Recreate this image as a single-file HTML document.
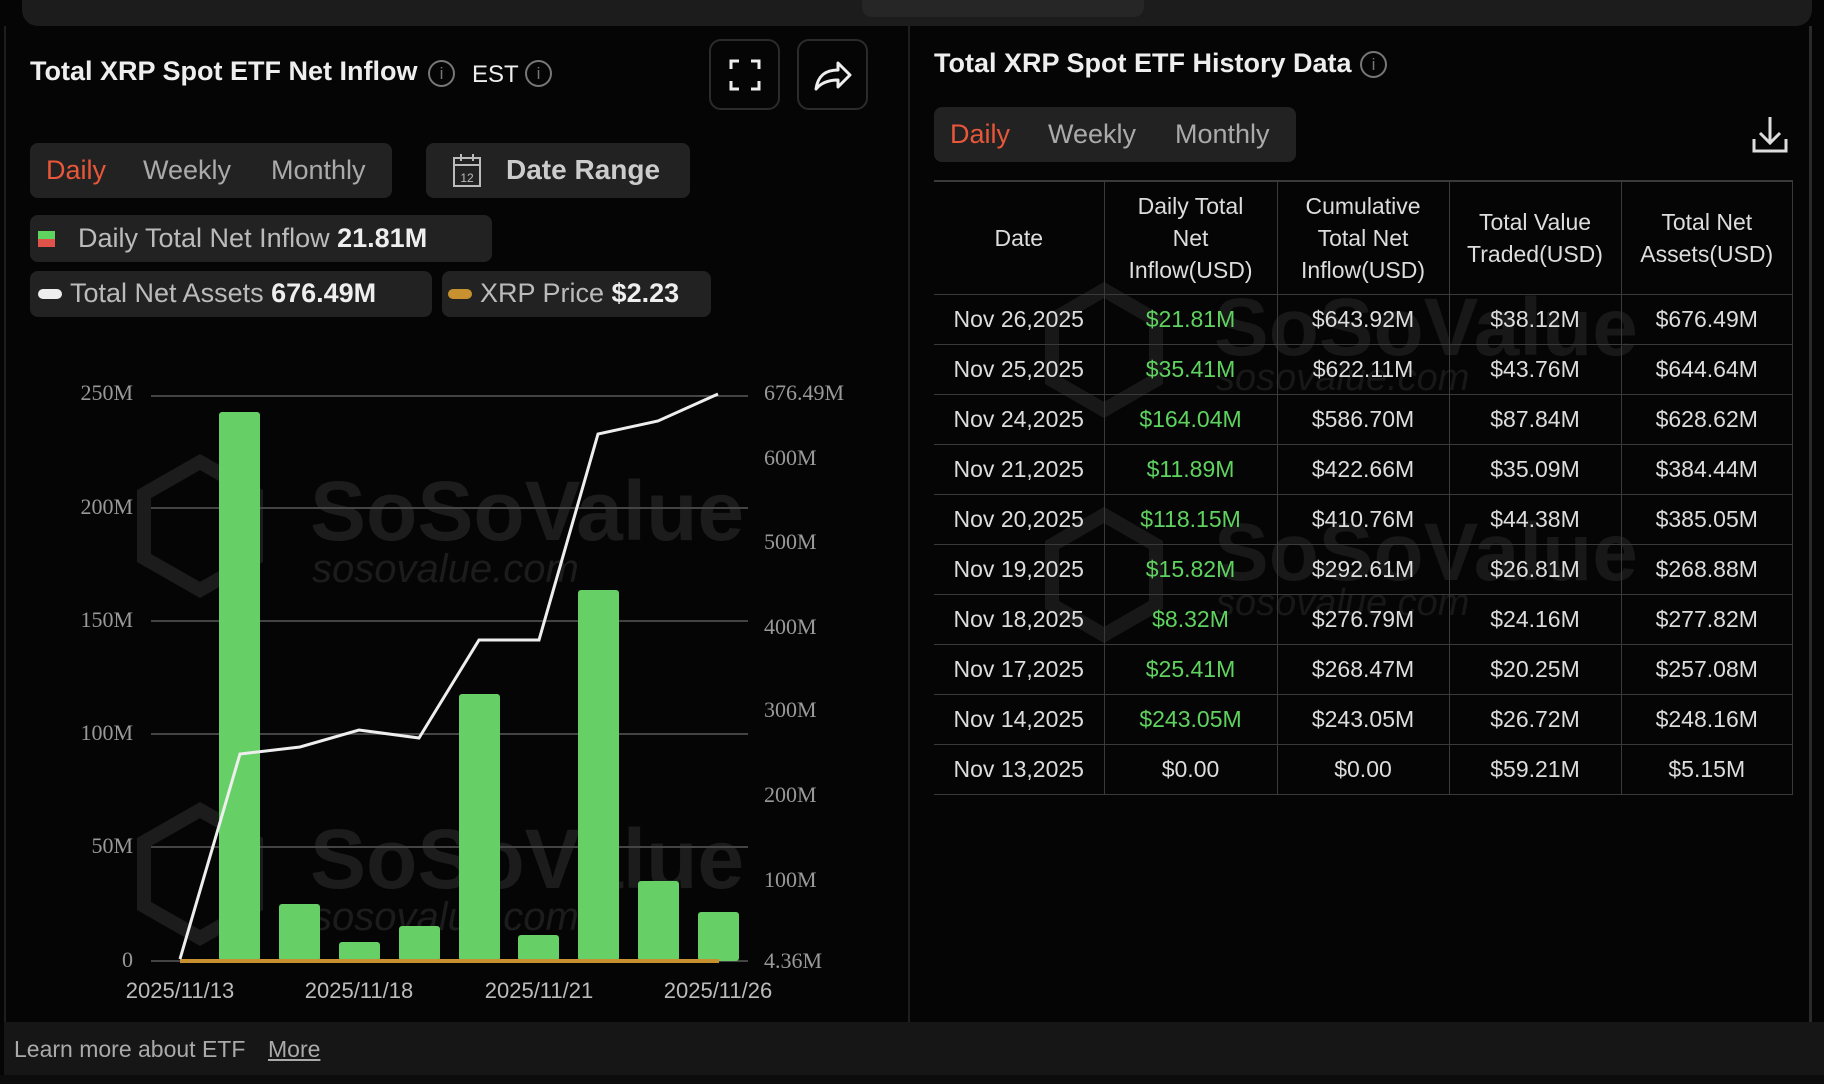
<!DOCTYPE html>
<html><head><meta charset="utf-8"><style>
*{margin:0;padding:0;box-sizing:border-box}
body{width:1824px;height:1084px;background:#050505;font-family:"Liberation Sans",sans-serif;color:#ddd;position:relative;overflow:hidden}
.a{position:absolute}
.box{position:absolute;background:#222;border-radius:8px}
.t{white-space:nowrap}
table{position:absolute;left:934px;top:180px;width:859px;border-collapse:collapse;font-size:23px;color:#ddd}
td,th{border:1px solid #3a3a3a;text-align:center;font-weight:normal;height:50px;padding:0}
th{height:113px;line-height:32px;color:#ddd}
tr td:first-child,tr th:first-child{border-left:none}
.g{color:#5fd35f}
</style></head><body>
<div class="a" style="left:22px;top:0;width:1790px;height:26px;background:#1c1c1c;border-radius:0 0 16px 16px"></div>
<div class="a" style="left:862px;top:0;width:282px;height:17px;background:#262626;border-radius:0 0 10px 10px"></div>
<div class="a" style="left:4px;top:26px;width:2px;height:996px;background:#1e1e1e"></div>
<div class="a" style="left:908px;top:26px;width:2px;height:996px;background:#1e1e1e"></div>
<div class="a" style="left:1809px;top:26px;width:3px;height:996px;background:#2a2a2a"></div>

<div class="a t" style="left:30px;top:56px;font-size:27px;font-weight:bold;color:#eee">Total XRP Spot ETF Net Inflow</div>
<div class="a" style="left:428px;top:60px;width:27px;height:27px;border:2px solid #777;border-radius:50%;color:#777;font-size:17px;text-align:center;line-height:23px">i</div>
<div class="a t" style="left:472px;top:61px;font-size:24px;color:#eee">EST</div>
<div class="a" style="left:525px;top:60px;width:27px;height:27px;border:2px solid #777;border-radius:50%;color:#777;font-size:17px;text-align:center;line-height:23px">i</div>
<div class="a" style="left:709px;top:39px;width:71px;height:71px;border:2px solid #2b2b2b;border-radius:12px"></div>
<svg class="a" style="left:729px;top:59px" width="32" height="32"><path d="M2 10V2h8M22 2h8v8M30 22v8h-8M10 30H2v-8" stroke="#eee" stroke-width="3" fill="none"/></svg>
<div class="a" style="left:797px;top:39px;width:71px;height:71px;border:2px solid #2b2b2b;border-radius:12px"></div>
<svg class="a" style="left:812px;top:55px" width="42" height="40"><path d="M4 34C6 20 14 15 26 15V8l12 12-12 12v-7C16 25 9 28 4 34Z" stroke="#eee" stroke-width="3" fill="none" stroke-linejoin="round"/></svg>

<div class="box" style="left:30px;top:143px;width:362px;height:55px"></div>
<div class="a t" style="left:46px;top:155px;font-size:27px;color:#e8573a">Daily</div>
<div class="a t" style="left:143px;top:155px;font-size:27px;color:#aaa">Weekly</div>
<div class="a t" style="left:271px;top:155px;font-size:27px;color:#aaa">Monthly</div>
<div class="box" style="left:426px;top:143px;width:264px;height:55px"></div>
<svg class="a" style="left:452px;top:152px" width="32" height="36"><rect x="2" y="6" width="26" height="28" stroke="#bbb" stroke-width="2" fill="none"/><path d="M2 13h26M9 2v7M21 2v7" stroke="#bbb" stroke-width="2"/><text x="15" y="30" font-size="12" fill="#bbb" text-anchor="middle" font-family="Liberation Sans">12</text></svg>
<div class="a t" style="left:506px;top:154px;font-size:28px;font-weight:bold;color:#ccc">Date Range</div>

<div class="box" style="left:30px;top:215px;width:462px;height:47px"></div>
<div class="a" style="left:38px;top:231px;width:17px;height:8px;background:#5fd35f"></div>
<div class="a" style="left:38px;top:239px;width:17px;height:8px;background:#e0524a"></div>
<div class="a t" style="left:78px;top:223px;font-size:27px;color:#bbb">Daily Total Net Inflow <b style="color:#eee">21.81M</b></div>
<div class="box" style="left:30px;top:271px;width:402px;height:46px"></div>
<div class="a" style="left:38px;top:289px;width:24px;height:10px;background:#eee;border-radius:5px"></div>
<div class="a t" style="left:70px;top:278px;font-size:27px;color:#bbb">Total Net Assets <b style="color:#eee">676.49M</b></div>
<div class="box" style="left:442px;top:271px;width:269px;height:46px"></div>
<div class="a" style="left:448px;top:289px;width:24px;height:10px;background:#c8912f;border-radius:5px"></div>
<div class="a t" style="left:480px;top:278px;font-size:27px;color:#bbb">XRP Price <b style="color:#eee">$2.23</b></div>

<svg class="a" style="left:0;top:0" width="910" height="1020">
<g fill="#1c1c1c" font-family="Liberation Sans" font-weight="bold">
<path d="M200 462l56 32v64l-56 32-56-32v-64z" stroke="#1c1c1c" stroke-width="14" fill="none"/>
<text x="310" y="540" font-size="84">SoSoValue</text>
<text x="312" y="582" font-size="40" font-weight="normal" font-style="italic">sosovalue.com</text>
<path d="M200 810l56 32v64l-56 32-56-32v-64z" stroke="#1c1c1c" stroke-width="14" fill="none"/>
<text x="310" y="888" font-size="84">SoSoValue</text>
<text x="312" y="930" font-size="40" font-weight="normal" font-style="italic">sosovalue.com</text>
</g>
<g stroke="#444" stroke-width="2">
<line x1="151" x2="748" y1="396" y2="396"/><line x1="151" x2="748" y1="508" y2="508"/>
<line x1="151" x2="748" y1="621" y2="621"/><line x1="151" x2="748" y1="734" y2="734"/>
<line x1="151" x2="748" y1="847" y2="847"/><line x1="151" x2="748" y1="961" y2="961"/>
</g>
<g font-family="Liberation Serif" font-size="22" fill="#999" text-anchor="end">
<text x="133" y="400">250M</text><text x="133" y="514">200M</text><text x="133" y="627">150M</text>
<text x="133" y="740">100M</text><text x="133" y="853">50M</text><text x="133" y="967">0</text>
</g>
<g font-family="Liberation Serif" font-size="22" fill="#999">
<text x="764" y="400">676.49M</text><text x="764" y="465">600M</text><text x="764" y="549">500M</text>
<text x="764" y="634">400M</text><text x="764" y="717">300M</text><text x="764" y="802">200M</text>
<text x="764" y="887">100M</text><text x="764" y="968">4.36M</text>
</g>
<g fill="#66cf66">
<rect x="219" y="412" width="41" height="549" rx="3"/>
<rect x="279" y="904" width="41" height="57" rx="3"/>
<rect x="339" y="942" width="41" height="19" rx="3"/>
<rect x="399" y="926" width="41" height="35" rx="3"/>
<rect x="459" y="694" width="41" height="267" rx="3"/>
<rect x="518" y="935" width="41" height="26" rx="3"/>
<rect x="578" y="590" width="41" height="371" rx="3"/>
<rect x="638" y="881" width="41" height="80" rx="3"/>
<rect x="698" y="912" width="41" height="49" rx="3"/>
</g>
<line x1="180" x2="719" y1="961" y2="961" stroke="#c8912f" stroke-width="4"/>
<polyline fill="none" stroke="#eee" stroke-width="3" points="180,959 240,754 300,747 359,730 419,738 479,640 539,640 598,434 658,421 718,394"/>
<g font-family="Liberation Sans" font-size="22" fill="#bbb" text-anchor="middle">
<text x="180" y="998">2025/11/13</text><text x="359" y="998">2025/11/18</text>
<text x="539" y="998">2025/11/21</text><text x="718" y="998">2025/11/26</text>
</g>
</svg>

<div class="a t" style="left:934px;top:48px;font-size:27px;font-weight:bold;color:#eee">Total XRP Spot ETF History Data</div>
<div class="a" style="left:1360px;top:51px;width:27px;height:27px;border:2px solid #777;border-radius:50%;color:#777;font-size:17px;text-align:center;line-height:23px">i</div>
<div class="box" style="left:934px;top:107px;width:362px;height:55px"></div>
<div class="a t" style="left:950px;top:119px;font-size:27px;color:#e8573a">Daily</div>
<div class="a t" style="left:1048px;top:119px;font-size:27px;color:#aaa">Weekly</div>
<div class="a t" style="left:1175px;top:119px;font-size:27px;color:#aaa">Monthly</div>
<svg class="a" style="left:1751px;top:115px" width="38" height="38"><path d="M19 2v26M9 18l10 10 10-10M3 24v12h32V24" stroke="#ddd" stroke-width="3" fill="none"/></svg>

<svg class="a" style="left:934px;top:250px" width="860" height="450"><g fill="#181818" font-family="Liberation Sans" font-weight="bold">
<path d="M170 40l52 30v60l-52 30-52-30V70z" stroke="#181818" stroke-width="14" fill="none"/>
<text x="280" y="105" font-size="82">SoSoValue</text><text x="282" y="140" font-size="38" font-weight="normal" font-style="italic">sosovalue.com</text>
<path d="M170 265l52 30v60l-52 30-52-30V295z" stroke="#181818" stroke-width="14" fill="none"/>
<text x="280" y="330" font-size="82">SoSoValue</text><text x="282" y="365" font-size="38" font-weight="normal" font-style="italic">sosovalue.com</text>
</g></svg>
<table>
<tr style="border-top:2px solid #3a3a3a"><th style="width:170px">Date</th><th style="width:173px">Daily Total<br>Net<br>Inflow(USD)</th><th style="width:172px">Cumulative<br>Total Net<br>Inflow(USD)</th><th style="width:172px">Total Value<br>Traded(USD)</th><th style="border-right:1px solid #3a3a3a">Total Net<br>Assets(USD)</th></tr>
<tr><td>Nov 26,2025</td><td class="g">$21.81M</td><td>$643.92M</td><td>$38.12M</td><td>$676.49M</td></tr>
<tr><td>Nov 25,2025</td><td class="g">$35.41M</td><td>$622.11M</td><td>$43.76M</td><td>$644.64M</td></tr>
<tr><td>Nov 24,2025</td><td class="g">$164.04M</td><td>$586.70M</td><td>$87.84M</td><td>$628.62M</td></tr>
<tr><td>Nov 21,2025</td><td class="g">$11.89M</td><td>$422.66M</td><td>$35.09M</td><td>$384.44M</td></tr>
<tr><td>Nov 20,2025</td><td class="g">$118.15M</td><td>$410.76M</td><td>$44.38M</td><td>$385.05M</td></tr>
<tr><td>Nov 19,2025</td><td class="g">$15.82M</td><td>$292.61M</td><td>$26.81M</td><td>$268.88M</td></tr>
<tr><td>Nov 18,2025</td><td class="g">$8.32M</td><td>$276.79M</td><td>$24.16M</td><td>$277.82M</td></tr>
<tr><td>Nov 17,2025</td><td class="g">$25.41M</td><td>$268.47M</td><td>$20.25M</td><td>$257.08M</td></tr>
<tr><td>Nov 14,2025</td><td class="g">$243.05M</td><td>$243.05M</td><td>$26.72M</td><td>$248.16M</td></tr>
<tr><td>Nov 13,2025</td><td>$0.00</td><td>$0.00</td><td>$59.21M</td><td>$5.15M</td></tr>
</table>

<div class="a" style="left:4px;top:1022px;width:1820px;height:53px;background:#161616"></div>
<div class="a t" style="left:14px;top:1036px;font-size:23px;color:#aaa">Learn more about ETF</div>
<div class="a t" style="left:268px;top:1036px;font-size:23px;color:#aaa;text-decoration:underline">More</div>
<div class="a" style="left:0;top:1075px;width:1824px;height:9px;background:#0c0c0c"></div>
</body></html>
